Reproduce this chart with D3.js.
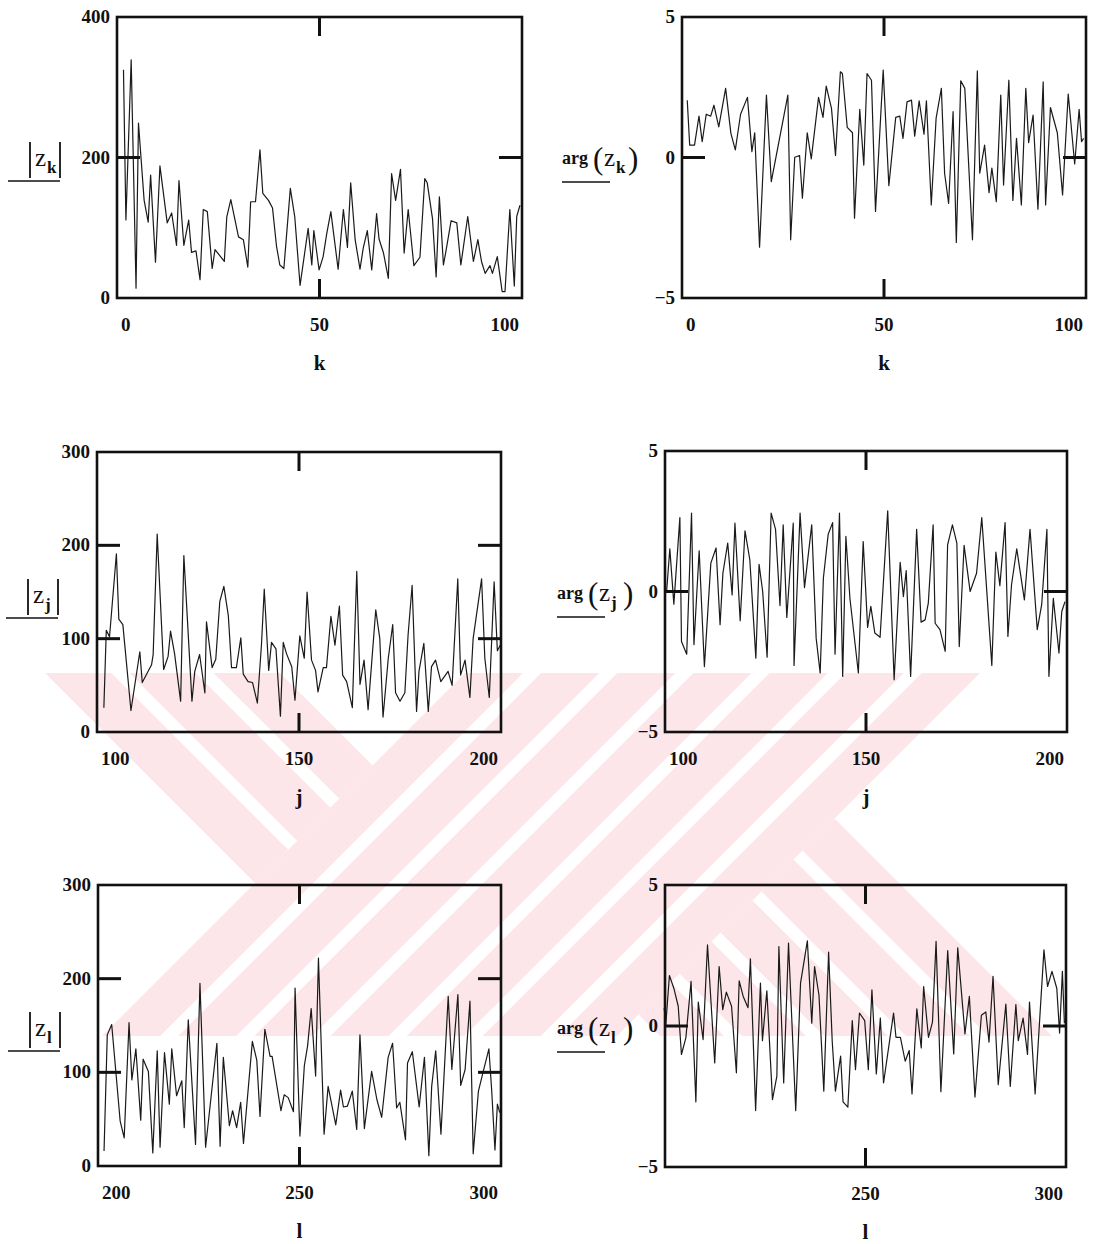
<!DOCTYPE html>
<html>
<head>
<meta charset="utf-8">
<script src="https://cdn.jsdelivr.net/npm/d3@7"></script>
<style>
  body { margin: 0; background: #fff; }
  text { font-family: "Liberation Serif", "DejaVu Serif", serif; fill: #111; }
</style>
</head>
<body>
<svg id="chart" width="1101" height="1244"></svg>
<script>
// |z_k| and arg(z_k), k = 0..100  ([index, value])
const absK = [[1.6,325],[2.2,111],[3.5,339],[4.7,14],[5.3,249],[6.7,139],[7.7,108],[8.3,175],[9.5,51],[10.6,188],[12.4,107],[13.5,121],[14.7,75],[15.3,167],[16.5,75],[17.7,111],[18.4,65],[19.5,67],[20.5,26],[21.3,126],[22.3,123],[23.5,42],[24.2,69],[26.5,52],[27.1,115],[28.1,140],[30,87],[31.2,83],[32.3,44],[33,137],[34.2,137],[35.3,211],[36,149],[37.4,139],[38.4,128],[39.4,73],[40.2,47],[41.2,42],[42.8,156],[43.9,115],[45.2,18],[47.2,99],[48.1,47],[48.6,96],[49.9,40],[50.9,59],[51.8,92],[52.8,123],[54.6,41],[55.9,126],[56.9,72],[57.7,164],[58.8,83],[60,41],[60.8,71],[61.8,96],[62.9,40],[64.1,120],[64.7,84],[65.8,64],[67,28],[67.8,177],[68.8,139],[70,183],[70.9,64],[71.9,126],[73.3,46],[74.8,58],[76,170],[76.6,164],[77.9,113],[78.8,30],[79.6,144],[80.6,47],[81.2,66],[82.5,110],[83.9,107],[84.9,47],[86.6,116],[88,52],[89.1,83],[90,52],[90.9,35],[92.1,46],[92.7,35],[93.9,59],[95.1,9],[95.8,9],[97,126],[98.1,17],[98.7,116],[99.5,132]];
const argK = [[1.3,2.04],[1.9,0.44],[3.1,0.44],[4.2,1.47],[5,0.56],[6,1.54],[7.1,1.47],[7.9,1.86],[9.1,1.09],[10.8,2.46],[12.1,0.86],[13.2,0.27],[14.5,1.54],[16.2,2.14],[17.3,0.21],[18,0.88],[19.2,-3.19],[20.9,2.22],[22.1,-0.86],[26.2,2.22],[26.9,-2.93],[27.9,0.01],[29.1,0.07],[29.8,-1.45],[31,0.88],[32,-0.05],[33.8,2.14],[34.9,1.43],[35.7,2.54],[37,1.75],[38,0.07],[39.2,3.05],[39.7,2.99],[40.9,1.07],[42.2,0.88],[42.7,-2.16],[44,1.71],[45,-0.27],[45.8,2.99],[46.9,2.75],[47.9,-1.92],[49.8,3.11],[51.2,-1.0],[52.9,1.43],[53.9,1.47],[54.7,0.68],[55.7,1.98],[56.8,2.04],[57.6,0.76],[58.7,2.02],[59.9,0.83],[60.5,2.02],[61.7,-1.69],[62.9,1.4],[64.2,2.46],[65,-0.56],[66,-1.63],[67.1,1.63],[67.9,-3.02],[69,2.73],[70,2.46],[71.9,-2.93],[73.1,3.08],[73.7,-0.56],[74.9,0.44],[76,-1.25],[76.7,-0.38],[77.8,-1.57],[78.9,2.22],[79.6,-0.98],[80.9,2.75],[81.9,-1.53],[82.8,0.68],[84,-1.69],[85.1,2.46],[85.8,0.53],[86.9,1.51],[88.1,-1.84],[89.4,2.69],[90,-1.69],[91.2,1.78],[92.9,0.88],[94.2,-1.33],[95.6,2.26],[97.2,-0.23],[98.3,1.71],[98.9,0.56],[99.4,0.68]];

// |z_j| and arg(z_j), j = 100..200
const absJ = [[101.7,26],[102.3,109],[103.1,102],[104.8,191],[105.4,121],[106.4,115],[108.4,23],[110.6,86],[111.2,53],[113.5,72],[113.9,83],[114.9,212],[116.5,67],[117.6,81],[118.2,108],[119.2,84],[120.7,33],[121.5,189],[123.5,33],[124.2,65],[125.4,83],[126.7,42],[127.1,118],[128.5,69],[129.4,78],[130.4,140],[131.4,156],[132.5,125],[133.3,69],[134.5,69],[135.6,101],[136.2,62],[137.4,54],[138.5,53],[139.7,31],[140.7,93],[141.4,153],[142.5,66],[143.2,96],[144.3,89],[145.4,17],[146.1,96],[146.9,84],[148.2,70],[149,34],[150.2,103],[151.3,79],[152,150],[153.1,77],[154.1,66],[154.7,43],[156,69],[156.8,69],[157.9,124],[158.9,93],[160,135],[160.8,61],[161.8,54],[163.2,26],[164.3,172],[165.1,51],[166.1,77],[167.1,24],[169,131],[170,100],[170.8,16],[172.1,79],[173.2,115],[173.9,42],[175,33],[176.2,42],[177,104],[178,157],[179.1,22],[179.7,65],[180.9,95],[182,22],[182.8,70],[183.8,77],[185.1,54],[186.9,65],[187.9,50],[189.3,164],[190,61],[191.1,77],[192.3,37],[193.1,100],[195.2,164],[196,79],[197.1,37],[198.3,161],[199.1,87],[199.8,93]];
const argJ = [[100.4,0],[101.2,1.52],[102.2,-0.45],[103.7,2.63],[104.1,-1.78],[105.4,-2.23],[106.6,2.79],[107.2,-1.89],[108.5,1.45],[109.8,-2.67],[111.4,1.01],[112.7,1.55],[113.7,-1.18],[114.4,0.65],[115.6,1.72],[116.7,-0.12],[117.4,2.43],[118.7,-1.04],[119.9,2.16],[121.1,1.13],[122.6,-2.37],[123.4,0.97],[124.3,0],[125.4,-2.34],[126.4,2.79],[127.5,2.21],[128.6,-0.5],[129.4,2.37],[130.3,-0.92],[131.9,2.43],[132.1,-2.63],[133.6,2.79],[134.7,0.14],[136.5,2.37],[137.6,-1.66],[138.6,-2.9],[139.4,0.48],[140.6,2.04],[141.7,2.45],[142.3,-2.23],[143.4,2.79],[144.2,-3.02],[145,1.96],[146,-0.24],[148.1,-2.9],[149.3,1.78],[150.4,-1.28],[151.2,-0.53],[152.2,-1.48],[153.5,-1.63],[155.4,2.87],[157,-3.14],[158.5,1.04],[159.3,-0.18],[160,0.74],[161.1,-3.02],[162.6,2.21],[163.7,-1.09],[164.7,-1.01],[165.5,-0.41],[166.7,2.37],[167.2,-1.13],[168.4,-1.36],[169.7,-2.13],[170.3,1.66],[171.5,2.37],[172.6,1.72],[173.2,-1.96],[174.4,1.64],[175.9,0],[177.5,0.65],[178.8,2.63],[181.3,-2.63],[182.3,1.4],[183.3,0.21],[184.6,2.45],[185.3,-1.6],[186.2,0.24],[187.5,1.52],[189.4,-0.3],[190.8,2.21],[192.6,-1.36],[193.7,-0.47],[195,2.21],[195.5,-3.02],[196.6,-0.24],[198,-2.19],[198.7,-0.71],[199.5,-0.36]];

// |z_l| and arg(z_l), l = 200..300
const absL = [[201.5,16],[202.3,140],[203.4,151],[205.5,48],[206.5,30],[207.7,153],[208.4,92],[209.4,125],[210.6,49],[211.2,114],[212.5,101],[213.6,14],[214.7,123],[215.4,20],[216.5,121],[217.7,66],[218.3,125],[219.5,75],[220.8,91],[221.4,41],[222.4,156],[224.2,23],[225.3,195],[226.7,20],[229.5,131],[230.3,21],[231.1,116],[232.6,43],[233.4,59],[234.4,41],[235.4,68],[236.1,24],[238.3,133],[239.4,113],[240.2,53],[241.4,146],[242.7,117],[243.2,117],[245.4,59],[246.2,76],[247.2,73],[248.5,58],[248.9,190],[250.1,32],[251.2,107],[252,128],[252.9,168],[254,96],[254.7,222],[256.1,34],[257.1,85],[259,44],[260.2,81],[260.9,63],[261.9,64],[263.1,80],[264.2,39],[265,140],[266.1,40],[267.9,101],[269.2,71],[270.4,52],[272,116],[273.1,131],[274.1,62],[274.9,68],[276.3,28],[276.8,110],[278,122],[279.7,63],[281,116],[282.1,11],[282.8,85],[283.8,123],[285.1,34],[286.9,181],[287.8,103],[289.3,183],[290,86],[291.1,103],[292.3,176],[293.1,13],[294.4,80],[295.6,101],[297,125],[297.7,80],[298.5,17],[299.1,66],[299.7,57]];
const argL = [[199.8,0.64],[200.2,0.05],[201.1,1.79],[202.2,1.34],[203.3,0.7],[204.1,-1.01],[205.2,-0.42],[206.5,1.58],[207.7,-2.69],[208.3,0.85],[209.5,-0.48],[210.6,2.88],[212.4,-1.31],[213.5,2.11],[214.4,0.58],[215.3,1.2],[216.6,0.7],[217.8,-1.66],[218.5,1.6],[219.5,1.05],[220.7,0.65],[221.3,2.38],[222.6,-3.0],[223.8,1.52],[224.3,-0.52],[225.4,1.25],[226.8,-2.61],[227.9,-1.78],[228.4,2.82],[229.6,-2.02],[230.8,2.94],[232.6,-3.0],[233.8,1.52],[235.5,3.02],[236.6,0.1],[237.3,2.11],[238.4,1.09],[239.6,-2.31],[240.8,2.62],[241.7,-0.54],[242.5,-2.31],[243.8,-1.07],[244.4,-2.69],[245.6,-2.88],[246.7,0.19],[247.5,-1.55],[248.5,0.46],[249.8,0.19],[250.7,-1.55],[251.6,1.28],[252.7,-1.7],[253.7,0.28],[254.5,-2.02],[257,0.46],[257.6,-0.4],[258.7,-0.4],[259.9,-1.25],[260.9,-0.87],[261.6,-2.41],[262.8,0.61],[263.9,-0.78],[264.5,1.4],[265.7,-0.4],[266.7,0.14],[267.6,3.0],[268.8,-2.33],[270.5,2.67],[272,-0.99],[273,2.77],[274.8,-0.28],[275.9,1.05],[277.3,-2.52],[278.9,0.38],[280,0.5],[280.8,-0.57],[281.8,1.76],[283.1,-2.08],[285,0.78],[286.1,-2.14],[287.5,0.76],[288.1,-0.52],[289.3,0.28],[290.4,-1.01],[290.9,0.85],[292.3,-2.41],[294.5,2.7],[295.4,1.4],[296.5,1.94],[297.7,1.34],[298.4,-0.25],[299.1,1.94],[299.6,0.1]];

// tick labels
const absTicksK = [0, 200, 400];
const absTicks = [0, 100, 200, 300];
const argTicks = [-5, 0, 5];
const xTicksK = [0, 50, 100];
const xTicksJ = [100, 150, 200];
const xTicksL = [200, 250, 300];
const xTicksL2 = [250, 300];

const svg = d3.select('#chart');

// faint pink watermark of the scanned page: a wide "/" stripe band with
// a "\" fin on its upper left and another on its lower right
const WM = { top: 673, bottom: 1036, fill: '#fce6ea', gap: 18 };
const H = WM.bottom - WM.top;
const defs = svg.append('defs');
const pts = a => a.map(p => p.join(',')).join(' ');
defs.append('clipPath').attr('id', 'wmBand')
  .append('rect').attr('x', 0).attr('y', WM.top).attr('width', 1101).attr('height', H);
defs.append('clipPath').attr('id', 'wmLeft')
  .append('polygon').attr('points', pts([[0, WM.top], [465, WM.top], [465 - H, WM.bottom], [0, WM.bottom]]));
defs.append('clipPath').attr('id', 'wmRight')
  .append('polygon').attr('points', pts([[980, WM.top], [1101, WM.top], [1101, WM.bottom], [980 - H, WM.bottom]]));

const wm = svg.append('g').attr('clip-path', 'url(#wmBand)').attr('fill', WM.fill);
// bundle: left/right edge at the top line, direction (+1 "\" , -1 "/"), number of stripes
function bundle(parent, left, right, dir, n) {
  const w = (right - left - (n - 1) * WM.gap) / n;
  d3.range(n).forEach(i => {
    const a = left + i * (w + WM.gap), b = a + w;
    parent.append('polygon').attr('points', pts([
      [a, WM.top], [b, WM.top], [b + dir * H, WM.bottom], [a + dir * H, WM.bottom]
    ]));
  });
}
bundle(wm, 465, 980, -1, 7);
bundle(wm.append('g').attr('clip-path', 'url(#wmLeft)'), 45, 280, 1, 3);
bundle(wm.append('g').attr('clip-path', 'url(#wmRight)'), 660 - H, 1052 - H, 1, 5);

// layout of the six plots (pixel boxes: left, top, right, bottom)
const panels = [
  { data: absK, box: [117, 17, 522, 298], xDom: [0, 100], yDom: [0, 400], yTicks: absTicksK, yInner: [200],
    xTicks: xTicksK, xInner: [50], xName: 'k', kind: 'abs', sub: 'k', title: [22, 160] },
  { data: argK, box: [682, 17, 1086, 298], xDom: [0, 100], yDom: [-5, 5], yTicks: argTicks, yInner: [0],
    xTicks: xTicksK, xInner: [50], xName: 'k', kind: 'arg', sub: 'k', title: [562, 160] },
  { data: absJ, box: [97, 452, 501, 732], xDom: [100, 200], yDom: [0, 300], yTicks: absTicks, yInner: [100, 200],
    xTicks: xTicksJ, xInner: [150], xName: 'j', kind: 'abs', sub: 'j', title: [20, 597] },
  { data: argJ, box: [665, 451, 1067, 732], xDom: [100, 200], yDom: [-5, 5], yTicks: argTicks, yInner: [0],
    xTicks: xTicksJ, xInner: [150], xName: 'j', kind: 'arg', sub: 'j', title: [557, 595] },
  { data: absL, box: [98, 885, 501, 1166], xDom: [200, 300], yDom: [0, 300], yTicks: absTicks, yInner: [100, 200],
    xTicks: xTicksL, xInner: [250], xName: 'l', kind: 'abs', sub: 'l', title: [22, 1030] },
  { data: argL, box: [665, 885, 1066, 1167], xDom: [200, 300], yDom: [-5, 5], yTicks: argTicks, yInner: [0],
    xTicks: xTicksL2, xInner: [250], xName: 'l', kind: 'arg', sub: 'l', title: [557, 1030] }
];

const fmt = v => v < 0 ? '\u2212' + Math.abs(v) : String(v);

panels.forEach(p => {
  const [x0, y0, x1, y1] = p.box;
  const x = d3.scaleLinear().domain(p.xDom).range([x0, x1]);
  const y = d3.scaleLinear().domain(p.yDom).range([y1, y0]);
  const g = svg.append('g');

  // trace
  g.append('path')
    .datum(p.data)
    .attr('fill', 'none')
    .attr('stroke', '#1a1a1a')
    .attr('stroke-width', 1.2)
    .attr('stroke-linejoin', 'round')
    .attr('d', d3.line().x(d => x(d[0])).y(d => y(d[1])));

  // frame
  g.append('rect')
    .attr('x', x0).attr('y', y0)
    .attr('width', x1 - x0).attr('height', y1 - y0)
    .attr('fill', 'none').attr('stroke', '#111').attr('stroke-width', 2.6);

  // inner tick marks, Mathcad style
  p.yInner.forEach(v => {
    g.append('line').attr('x1', x0).attr('x2', x0 + 23).attr('y1', y(v)).attr('y2', y(v))
      .attr('stroke', '#111').attr('stroke-width', 3);
    g.append('line').attr('x1', x1 - 23).attr('x2', x1).attr('y1', y(v)).attr('y2', y(v))
      .attr('stroke', '#111').attr('stroke-width', 3);
  });
  p.xInner.forEach(v => {
    g.append('line').attr('x1', x(v)).attr('x2', x(v)).attr('y1', y0).attr('y2', y0 + 19)
      .attr('stroke', '#111').attr('stroke-width', 3);
    g.append('line').attr('x1', x(v)).attr('x2', x(v)).attr('y1', y1 - 19).attr('y2', y1)
      .attr('stroke', '#111').attr('stroke-width', 3);
  });

  // y tick labels
  g.selectAll('text.yt').data(p.yTicks).enter().append('text')
    .attr('class', 'yt')
    .attr('x', x0 - 7)
    .attr('y', d => y(d) + 6)
    .attr('text-anchor', 'end')
    .style('font-size', '19px').style('font-weight', 'bold')
    .text(fmt);

  // x tick labels: ends sit inside the frame, middle is centred
  g.selectAll('text.xt').data(p.xTicks).enter().append('text')
    .attr('class', 'xt')
    .attr('x', d => d === p.xDom[0] ? x0 + 4 : d === p.xDom[1] ? x1 - 3 : x(d))
    .attr('y', y1 + 33)
    .attr('text-anchor', d => d === p.xDom[0] ? 'start' : d === p.xDom[1] ? 'end' : 'middle')
    .style('font-size', '19px').style('font-weight', 'bold')
    .text(fmt);

  // x axis name
  g.append('text')
    .attr('x', (x0 + x1) / 2).attr('y', y1 + 72)
    .attr('text-anchor', 'middle')
    .style('font-size', '21px').style('font-weight', 'bold')
    .text(p.xName);

  // y axis expression with the trace-style underline
  const [tx, ty] = p.title;
  const t = svg.append('g').attr('transform', `translate(${tx},${ty})`);
  if (p.kind === 'abs') {
    t.append('line').attr('x1', 8).attr('x2', 8).attr('y1', -18).attr('y2', 18).attr('stroke', '#111').attr('stroke-width', 1.8);
    t.append('text').attr('x', 13).attr('y', 6).style('font-size', '25px').text('z');
    t.append('text').attr('x', 25).attr('y', 13).style('font-size', '17px').style('font-weight', 'bold').text(p.sub);
    t.append('line').attr('x1', 38).attr('x2', 38).attr('y1', -18).attr('y2', 18).attr('stroke', '#111').attr('stroke-width', 1.8);
    t.append('line').attr('x1', -14).attr('x2', 38).attr('y1', 21).attr('y2', 21).attr('stroke', '#111').attr('stroke-width', 1.3);
  } else {
    t.append('text').attr('x', 0).attr('y', 4).style('font-size', '18px').style('font-weight', 'bold').text('arg');
    t.append('text').attr('x', 31).attr('y', 9).style('font-size', '31px').text('(');
    t.append('text').attr('x', 42).attr('y', 6).style('font-size', '25px').text('z');
    t.append('text').attr('x', 54).attr('y', 13).style('font-size', '17px').style('font-weight', 'bold').text(p.sub);
    t.append('text').attr('x', 66).attr('y', 9).style('font-size', '31px').text(')');
    t.append('line').attr('x1', 0).attr('x2', 48).attr('y1', 22).attr('y2', 22).attr('stroke', '#111').attr('stroke-width', 1.3);
  }
});
</script>
</body>
</html>
